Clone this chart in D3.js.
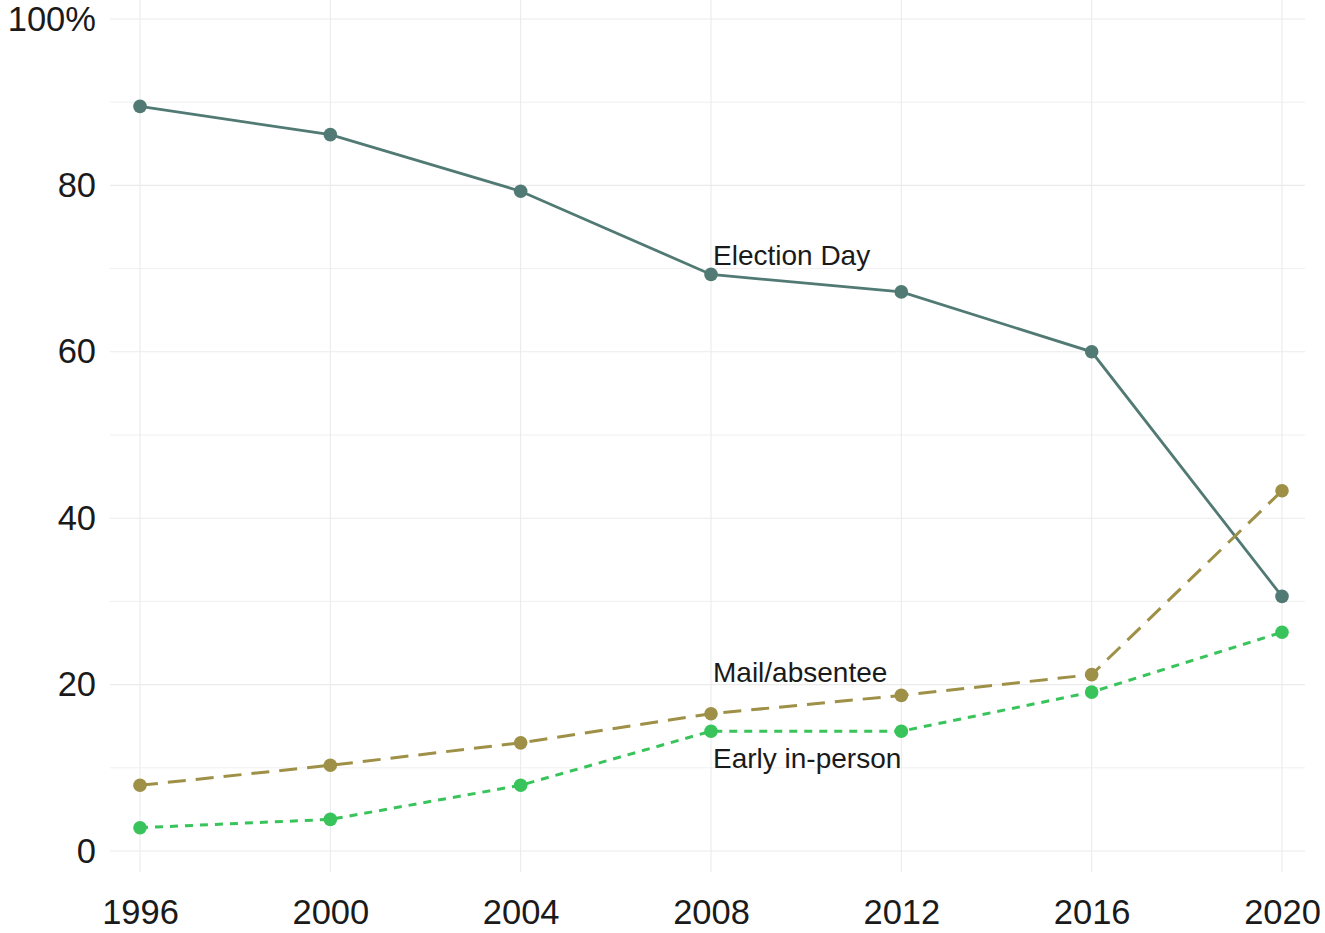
<!DOCTYPE html>
<html><head><meta charset="utf-8">
<script src="https://cdn.jsdelivr.net/npm/d3@7"></script>
<style>body{margin:0;background:#fff;} text{font-family:"Liberation Sans",Arial,sans-serif;}</style>
</head><body>
<svg id="c" width="1325" height="933"></svg>
<script>
const years = [1996, 2000, 2004, 2008, 2012, 2016, 2020];
const electionDay = [89.5, 86.1, 79.3, 69.3, 67.2, 60.0, 30.6];
const mailAbsentee = [7.9, 10.3, 13.0, 16.5, 18.7, 21.2, 43.3];
const earlyInPerson = [2.8, 3.8, 7.9, 14.4, 14.4, 19.1, 26.3];
const yTicks = [0, 20, 40, 60, 80, 100];
const yGrid = [0, 10, 20, 30, 40, 50, 60, 70, 80, 90, 100];
const seriesNames = ["Election Day", "Mail/absentee", "Early in-person"];

const svg = d3.select("#c");
const x = d3.scaleLinear().domain([1996, 2020]).range([140, 1282]);
const y = d3.scaleLinear().domain([0, 100]).range([851, 19]);
const panel = {left: 110, right: 1305, top: 0, bottom: 872};

// grid
svg.append("g").selectAll("line").data(yGrid).join("line")
  .attr("x1", panel.left).attr("x2", panel.right)
  .attr("y1", d => y(d)).attr("y2", d => y(d))
  .attr("stroke", "#ebebeb").attr("stroke-width", d => d % 20 === 0 ? 1.1 : 0.8);
svg.append("g").selectAll("line").data(years).join("line")
  .attr("x1", d => x(d)).attr("x2", d => x(d))
  .attr("y1", panel.top).attr("y2", panel.bottom)
  .attr("stroke", "#ebebeb").attr("stroke-width", 1.1);

// axes
const yAxis = d3.axisLeft(y).tickValues(yTicks).tickSize(0).tickPadding(0)
  .tickFormat(d => d === 100 ? "100%" : d);
svg.append("g").attr("transform", `translate(96,0)`).call(yAxis)
  .call(g => g.select(".domain").remove())
  .selectAll("text").attr("font-size", 34.5).attr("fill", "#1a1a1a")
  .attr("font-family", "Liberation Sans, Arial, sans-serif");
const xAxis = d3.axisBottom(x).tickValues(years).tickSize(0).tickPadding(0).tickFormat(d3.format("d"));
svg.append("g").attr("transform", `translate(0,899)`).call(xAxis)
  .call(g => g.select(".domain").remove())
  .selectAll("text").attr("font-size", 34.5).attr("fill", "#1a1a1a").attr("dy", "0.71em")
  .attr("font-family", "Liberation Sans, Arial, sans-serif");

const series = [
  {name: seriesNames[0], vals: electionDay, color: "#517a74", dash: null, w: 2.8},
  {name: seriesNames[1], vals: mailAbsentee, color: "#9e9046", dash: "18,10", w: 3},
  {name: seriesNames[2], vals: earlyInPerson, color: "#38c45a", dash: "8,7", w: 3}
];
const line = d3.line().x((d, i) => x(years[i])).y(d => y(d));
series.forEach(s => {
  svg.append("path").datum(s.vals).attr("d", line)
    .attr("fill", "none").attr("stroke", s.color).attr("stroke-width", s.w)
    .attr("stroke-dasharray", s.dash);
  svg.append("g").selectAll("circle").data(s.vals).join("circle")
    .attr("cx", (d, i) => x(years[i])).attr("cy", d => y(d)).attr("r", 6.8)
    .attr("fill", s.color);
});

// labels
const labels = [
  {t: seriesNames[0], v: electionDay[3], dy: -9},
  {t: seriesNames[1], v: mailAbsentee[3], dy: -32},
  {t: seriesNames[2], v: earlyInPerson[3], dy: 37}
];
svg.append("g").selectAll("text").data(labels).join("text")
  .attr("x", x(2008) + 2).attr("y", d => y(d.v) + d.dy)
  .attr("font-size", 28).attr("fill", "#1a1a1a").text(d => d.t);
</script>
</body></html>
